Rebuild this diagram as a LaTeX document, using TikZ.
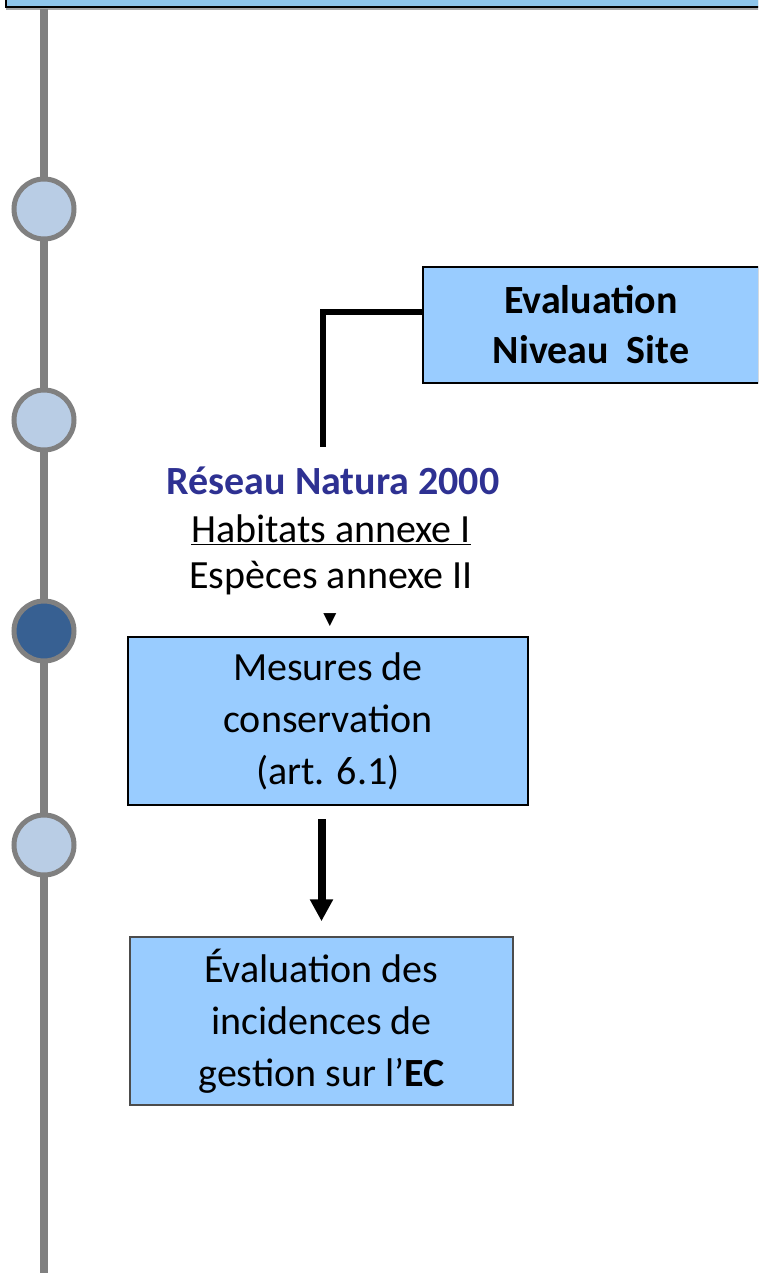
\documentclass[tikz,border=0pt]{standalone}
\usepackage{fontspec}
\setmainfont{Carlito}
\newfontfamily\symfont{DejaVu Sans}
\usetikzlibrary{arrows.meta}
\definecolor{boxblue}{HTML}{99CCFF}
\definecolor{barblue}{HTML}{8EC5EA}
\definecolor{railgray}{HTML}{808080}
\definecolor{dotlight}{HTML}{B9CDE5}
\definecolor{dotdark}{HTML}{376092}
\definecolor{natblue}{HTML}{2E3192}
\tikzset{
  stagebox/.style={draw=black, line width=2pt, fill=boxblue, align=center,
    inner sep=0pt, font=\fontsize{40}{52}\selectfont},
  stagedot/.style={circle, draw=railgray, line width=5pt, fill=dotlight,
    minimum size=60pt, inner sep=0pt},
  plain/.style={inner sep=0pt, font=\fontsize{40}{48}\selectfont},
  link/.style={line width=6pt},
  flow/.style={line width=8pt, -{Triangle[width=22pt,length=22pt]}},
}
\begin{document}
\begin{tikzpicture}[x=1pt,y=-1pt]
    \clip (0,0) rectangle (758,1273);
    % top bar and timeline
    \fill[gray!70] (6,0) rectangle (780,10);
    \draw[line width=2pt, fill=barblue] (6,-30) rectangle (780,7);
    \coordinate (railtop) at (44,9);
    \coordinate (railbot) at (44,1280);
    \draw[railgray, line width=8pt] (railtop) -- (railbot);
    \node[stagedot] (dot1) at (44,209) {};
    \node[stagedot] (dot2) at (44,420) {};
    \node[stagedot, fill=dotdark] (dot3) at (44,631) {};
    \node[stagedot] (dot4) at (44,845) {};
    % boxes
    \node[stagebox, minimum width=336pt, minimum height=116pt,
      font=\bfseries\fontsize{40}{50}\selectfont] (site) at (591,325)
      {Evaluation\\Niveau~ Site};
    \node[plain, font=\bfseries\fontsize{40}{48}\selectfont, text=natblue]
      (natura) at (333,481) {Réseau Natura 2000};
    \node[plain] (habitats) at (331,530) {\underline{Habitats annexe I}};
    \node[plain] (especes) at (331,578) {Espèces annexe II};
    \node[inner sep=0pt, font=\symfont\fontsize{17}{17}\selectfont]
      (tri) at (330,620) {▼};
    \node[stagebox, minimum width=400pt, minimum height=168pt] (mesures)
      at (328,721) {Mesures de\\conservation\\(art. 6.1)};
    \node[stagebox, draw=black!70, line width=1.5pt, minimum width=383pt,
      minimum height=168pt] (incid) at (321.5,1021)
      {Évaluation des\\incidences de\\gestion sur l’\textbf{EC}};
    % connectors
    \coordinate (bend) at (323,312);
    \coordinate (netend) at (323,447);
    \draw[link] (site.west |- bend) -- (bend) -- (netend);
    \draw[flow, shorten <=13pt, shorten >=15pt] (incid.north |- mesures.south)
      -- (incid.north);
\end{tikzpicture}
\end{document}
